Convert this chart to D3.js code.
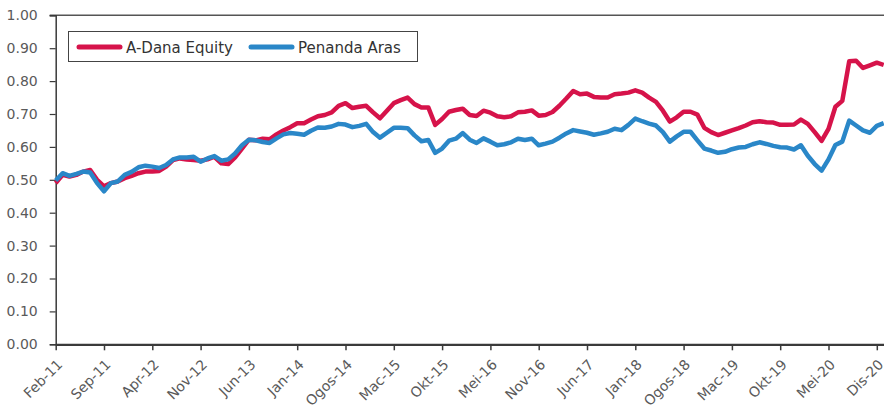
<!DOCTYPE html>
<html>
<head>
<meta charset="utf-8">
<script src="https://cdn.jsdelivr.net/npm/d3@7"></script>
<style>
  html, body { margin: 0; padding: 0; background: #fff; }
  svg { display: block; }
  text { font-family: "DejaVu Sans", sans-serif; }
</style>
</head>
<body>
<svg id="chart" width="884" height="411"></svg>
<script>
// ---- data ----
const seriesNames = ["A-Dana Equity", "Penanda Aras"];
const seriesColors = ["#d6134a", "#2a87c8"];
const tickLabels = ["Feb-11","Sep-11","Apr-12","Nov-12","Jun-13","Jan-14","Ogos-14","Mac-15","Okt-15",
                    "Mei-16","Nov-16","Jun-17","Jan-18","Ogos-18","Mac-19","Okt-19","Mei-20","Dis-20"];
const tickIndex = [0,7,14,21,28,35,42,49,56,63,70,77,84,91,98,105,112,119];
const yTicks = [0,0.1,0.2,0.3,0.4,0.5,0.6,0.7,0.8,0.9,1.0];

const adanaEquity = [
  0.490,0.515,0.510,0.515,0.525,0.530,0.500,0.480,0.490,0.495,
  0.505,0.512,0.520,0.525,0.525,0.527,0.540,0.560,0.565,0.562,
  0.560,0.558,0.562,0.570,0.550,0.548,0.568,0.595,0.622,0.620,
  0.625,0.623,0.638,0.650,0.660,0.672,0.672,0.683,0.693,0.697,
  0.705,0.725,0.733,0.718,0.722,0.725,0.705,0.687,0.710,0.733,
  0.742,0.750,0.730,0.720,0.720,0.667,0.685,0.707,0.712,0.716,
  0.697,0.694,0.710,0.704,0.693,0.690,0.693,0.705,0.707,0.711,
  0.695,0.697,0.706,0.725,0.747,0.770,0.760,0.762,0.752,0.750,
  0.750,0.760,0.762,0.765,0.772,0.765,0.750,0.737,0.710,0.677,
  0.690,0.707,0.707,0.698,0.658,0.645,0.636,0.643,0.650,0.657,
  0.665,0.675,0.678,0.675,0.674,0.667,0.667,0.668,0.683,0.670,
  0.645,0.618,0.655,0.722,0.740,0.860,0.862,0.840,0.848,0.856,
  0.849
];
const penandaAras = [
  0.498,0.520,0.512,0.518,0.525,0.522,0.490,0.465,0.490,0.495,
  0.515,0.524,0.538,0.543,0.540,0.536,0.545,0.562,0.568,0.568,
  0.570,0.555,0.565,0.572,0.558,0.562,0.580,0.605,0.622,0.620,
  0.615,0.612,0.626,0.638,0.642,0.640,0.637,0.649,0.659,0.658,
  0.662,0.670,0.668,0.660,0.664,0.670,0.645,0.628,0.643,0.658,
  0.658,0.657,0.635,0.617,0.621,0.582,0.595,0.619,0.625,0.642,
  0.622,0.612,0.626,0.616,0.605,0.608,0.614,0.625,0.621,0.625,
  0.605,0.610,0.616,0.628,0.641,0.651,0.647,0.643,0.637,0.641,
  0.646,0.655,0.651,0.667,0.686,0.678,0.671,0.665,0.645,0.616,
  0.632,0.646,0.646,0.620,0.595,0.589,0.582,0.585,0.593,0.598,
  0.600,0.608,0.614,0.609,0.603,0.599,0.598,0.592,0.605,0.573,
  0.548,0.528,0.562,0.606,0.616,0.680,0.665,0.650,0.643,0.664,
  0.672
];
const series = [adanaEquity, penandaAras];

// ---- layout ----
const svg = d3.select("#chart");
const x0 = 55.7, xEnd = 884, yBottom = 344.3, yTop = 15.3;
const x = d3.scaleLinear().domain([0, 119]).range([x0, 876.8]);
const y = d3.scaleLinear().domain([0, 1]).range([yBottom, yTop]);
const axisColor = "#3a3a3a";
const textColor = "#5a5a5a";

// top border
svg.append("line")
  .attr("x1", x0 - 6).attr("x2", xEnd)
  .attr("y1", yTop).attr("y2", yTop)
  .attr("stroke", "#555").attr("stroke-width", 1.5);

// y axis
const yAxis = svg.append("g")
  .attr("transform", `translate(${x0},0)`)
  .call(d3.axisLeft(y).tickValues(yTicks).tickFormat(d3.format(".2f")).tickSize(6).tickPadding(12));
yAxis.select(".domain").attr("stroke", axisColor).attr("stroke-width", 1.5);
yAxis.selectAll(".tick line").attr("stroke", axisColor).attr("stroke-width", 1.2);
yAxis.selectAll(".tick text").attr("fill", textColor).style("font-size", "14px")
  .style("font-family", "'DejaVu Sans', sans-serif");

// x axis
const xAxis = svg.append("g")
  .attr("transform", `translate(0,${yBottom})`)
  .call(d3.axisBottom(x).tickValues(tickIndex).tickFormat((d, i) => tickLabels[i]).tickSize(6).tickSizeOuter(0));
xAxis.select(".domain").attr("d", `M${x0},0.5H${xEnd}`).attr("stroke", axisColor).attr("stroke-width", 2.2);
xAxis.selectAll(".tick line").attr("stroke", axisColor).attr("stroke-width", 1.5);
xAxis.selectAll(".tick text")
  .attr("fill", textColor).style("font-size", "14px")
  .style("font-family", "'DejaVu Sans', sans-serif")
  .attr("text-anchor", "end")
  .attr("transform", "translate(0,14) rotate(-45)")
  .attr("dy", "0.71em").attr("y", 0).attr("x", 0);

// lines
const line = d3.line().x((d, i) => x(i)).y(d => y(d));
series.forEach((s, k) => {
  svg.append("path")
    .datum(s)
    .attr("fill", "none")
    .attr("stroke", seriesColors[k])
    .attr("stroke-width", 4.5)
    .attr("stroke-linejoin", "round")
    .attr("d", line);
});

// legend
const lg = svg.append("g");
lg.append("rect").attr("x", 68.5).attr("y", 31.5).attr("width", 349).attr("height", 30)
  .attr("fill", "#fff").attr("stroke", "#444").attr("stroke-width", 1);
const legendX = [79, 251];
seriesNames.forEach((n, k) => {
  lg.append("line").attr("x1", legendX[k]).attr("x2", legendX[k] + 41)
    .attr("y1", 47).attr("y2", 47)
    .attr("stroke", seriesColors[k]).attr("stroke-width", 5).attr("stroke-linecap", "round");
  lg.append("text").attr("x", legendX[k] + 47).attr("y", 52.5)
    .attr("fill", "#333").style("font-size", "15px").text(n);
});
</script>
</body>
</html>
